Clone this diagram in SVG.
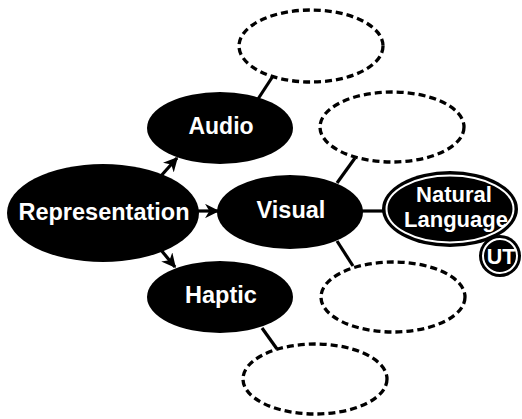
<svg xmlns="http://www.w3.org/2000/svg" width="522" height="419" viewBox="0 0 522 419">
  <style>
    .node { fill: #000; }
    .slot { fill: #fff; stroke: #000; stroke-width: 3.3; stroke-dasharray: 7 4; }
    .ring { fill: none; stroke: #fff; stroke-width: 2; }
    .label { font-family: "Liberation Sans", Arial, sans-serif; font-weight: bold; fill: #fff; text-anchor: middle; }
    .edge { stroke: #000; stroke-width: 3.2; fill: none; }
    .arrow { marker-end: url(#head); }
  </style>
  <defs>
    <marker id="head" viewBox="0 0 10 10" refX="9" refY="5" markerWidth="4.5" markerHeight="4.5" orient="auto" markerUnits="strokeWidth">
      <path d="M0,0 L10,5 L0,10 L3,5 Z" fill="#000"/>
    </marker>
  </defs>

  <!-- connectors -->
  <g id="connectors">
    <line class="edge arrow" x1="160" y1="177" x2="177" y2="158"/>
    <line class="edge arrow" x1="198" y1="211" x2="218" y2="211"/>
    <line class="edge arrow" x1="161" y1="250" x2="175" y2="267"/>
    <line class="edge" x1="258" y1="99" x2="273" y2="76"/>
    <line class="edge" x1="337" y1="183" x2="355" y2="158"/>
    <line class="edge" x1="360" y1="211" x2="384" y2="211"/>
    <line class="edge" x1="337" y1="241" x2="353" y2="266"/>
    <line class="edge" x1="262" y1="328" x2="277" y2="349"/>
  </g>

  <!-- empty placeholder slots -->
  <g id="slot-audio">
    <ellipse class="slot" cx="311" cy="46" rx="72" ry="36"/>
  </g>
  <g id="slot-visual-top">
    <ellipse class="slot" cx="392" cy="127" rx="72" ry="35"/>
  </g>
  <g id="slot-visual-bottom">
    <ellipse class="slot" cx="393" cy="297" rx="72" ry="35"/>
  </g>
  <g id="slot-haptic">
    <ellipse class="slot" cx="315" cy="379" rx="72" ry="35"/>
  </g>

  <g id="representation">
    <ellipse class="node" cx="103" cy="213" rx="96" ry="49"/>
    <text class="label" x="104" y="220" font-size="23.5">Representation</text>
  </g>
  <g id="audio">
    <ellipse class="node" cx="220" cy="128" rx="73" ry="36"/>
    <text class="label" x="221" y="134" font-size="23">Audio</text>
  </g>
  <g id="visual">
    <ellipse class="node" cx="290" cy="212" rx="73" ry="37"/>
    <text class="label" x="291" y="218" font-size="23.5">Visual</text>
  </g>
  <g id="haptic">
    <ellipse class="node" cx="220" cy="297" rx="73" ry="36"/>
    <text class="label" x="221" y="303" font-size="23.5">Haptic</text>
  </g>
  <g id="natural-language">
    <ellipse class="node" cx="450" cy="209" rx="68" ry="38"/>
    <ellipse class="ring" cx="450" cy="209" rx="63.5" ry="33.5"/>
    <text class="label" x="454" y="202" font-size="22">Natural</text>
    <text class="label" x="456" y="227" font-size="22">Language</text>
  </g>
  <g id="ut">
    <circle class="node" cx="500" cy="256" r="21"/>
    <circle class="ring" cx="500" cy="256" r="17"/>
    <text class="label" x="501" y="264" font-size="21.5">UT</text>
  </g>
</svg>
